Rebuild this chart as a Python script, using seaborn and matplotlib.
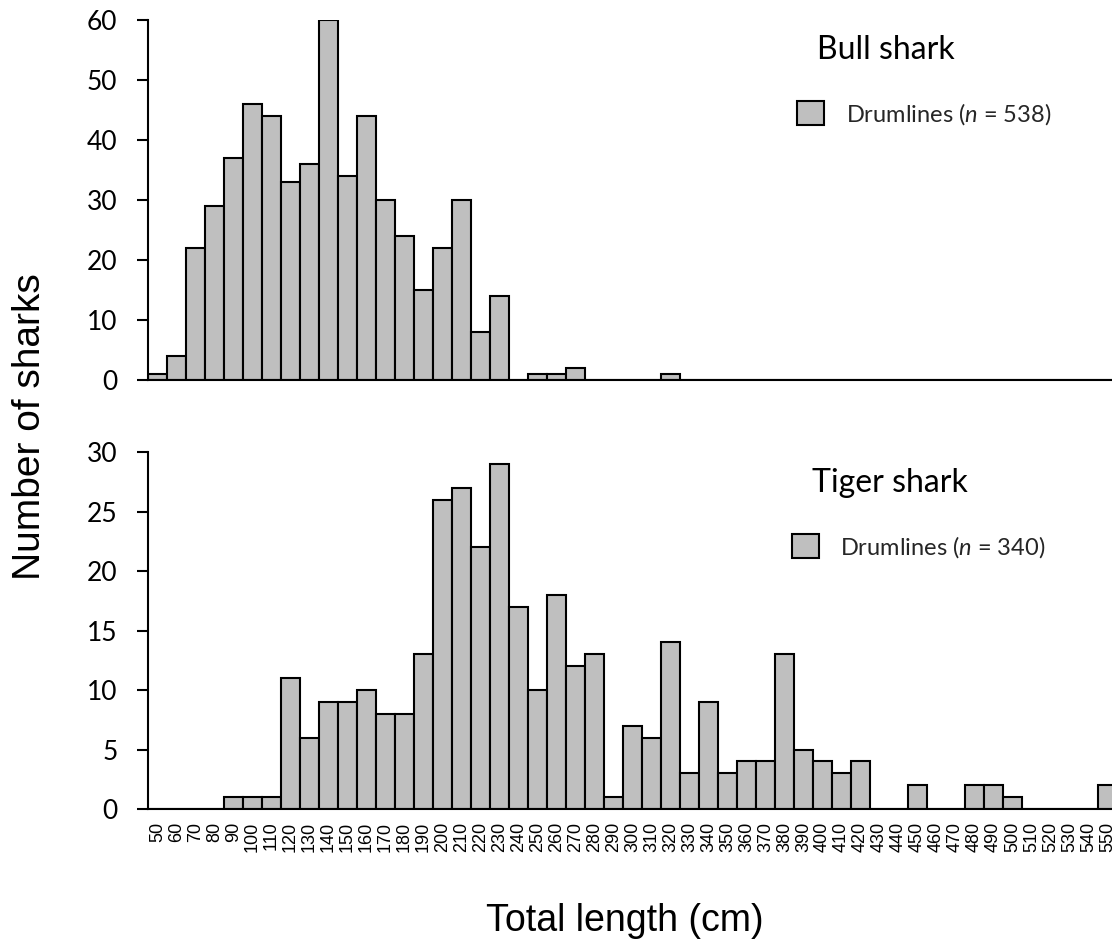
import matplotlib
matplotlib.use("Agg")
import matplotlib.pyplot as plt
import pandas as pd
import seaborn as sns
from matplotlib.patches import Patch

# Total length classes (cm)
length_classes = [50, 60, 70, 80, 90, 100, 110, 120, 130, 140, 150, 160, 170, 180,
                  190, 200, 210, 220, 230, 240, 250, 260, 270, 280, 290, 300, 310,
                  320, 330, 340, 350, 360, 370, 380, 390, 400, 410, 420, 430, 440,
                  450, 460, 470, 480, 490, 500, 510, 520, 530, 540, 550]

bull_counts = [1, 4, 22, 29, 37, 46, 44, 33, 36, 60, 34, 44, 30, 24,
               15, 22, 30, 8, 14, 0, 1, 1, 2, 0, 0, 0, 0,
               1, 0, 0, 0, 0, 0, 0, 0, 0, 0, 0, 0, 0,
               0, 0, 0, 0, 0, 0, 0, 0, 0, 0, 0]

tiger_counts = [0, 0, 0, 0, 1, 1, 1, 11, 6, 9, 9, 10, 8, 8,
                13, 26, 27, 22, 29, 17, 10, 18, 12, 13, 1, 7, 6,
                14, 3, 9, 3, 4, 4, 13, 5, 4, 3, 4, 0, 0,
                2, 0, 0, 2, 2, 1, 0, 0, 0, 0, 2]

bull_title = "Bull shark"
tiger_title = "Tiger shark"
bull_label = r"Drumlines ($n$ = 538)"
tiger_label = r"Drumlines ($n$ = 340)"

sns.set_theme(style="white")
plt.rcParams["font.family"] = ["Lato", "DejaVu Sans"]
plt.rcParams["mathtext.fontset"] = "custom"
plt.rcParams["mathtext.rm"] = "Lato"
plt.rcParams["mathtext.it"] = "Lato:italic"

BAR_FILL = "#bfbfbf"
EDGE = "black"

W, H = 1112, 939
fig = plt.figure(figsize=(W / 100, H / 100), dpi=100)

left_px, right_px = 148, 1117
ax_top = fig.add_axes([left_px / W, 1 - 380 / H, (right_px - left_px) / W, 360 / H])
ax_bot = fig.add_axes([left_px / W, 1 - 809 / H, (right_px - left_px) / W, 357 / H])

order = [str(v) for v in length_classes]
bull_df = pd.DataFrame({"length": order, "count": bull_counts})
tiger_df = pd.DataFrame({"length": order, "count": tiger_counts})


def draw_panel(ax, df, ymax, ystep, title, label, title_xy, legend_xy, show_xlabels):
    sns.barplot(data=df, x="length", y="count", order=order, ax=ax,
                color=BAR_FILL, width=1.0, edgecolor=EDGE, linewidth=1.5,
                saturation=1, errorbar=None)
    for bar in ax.patches:
        bar.set_facecolor(BAR_FILL)
    ax.set_xlim(-0.5, len(order) - 0.5)
    ax.set_ylim(0, ymax)
    ax.set_yticks(range(0, ymax + 1, ystep))
    ax.set_xlabel("")
    ax.set_ylabel("")
    for side in ("top", "right"):
        ax.spines[side].set_visible(False)
    for side in ("left", "bottom"):
        ax.spines[side].set_color("black")
        ax.spines[side].set_linewidth(1.5)
    ax.tick_params(axis="y", direction="out", length=8, width=1.5,
                   labelsize=19, left=True, pad=14, colors="black")
    if show_xlabels:
        ax.set_xticks(range(len(order)), order, rotation=90, fontsize=13,
                      family="Liberation Sans", color="black")
        ax.tick_params(axis="x", bottom=False, length=0, pad=9)
    else:
        ax.tick_params(axis="x", bottom=False, labelbottom=False)
    ax.text(title_xy[0], title_xy[1], title, transform=ax.transAxes,
            fontsize=23, va="baseline", ha="left", color="black")
    handle = Patch(facecolor=BAR_FILL, edgecolor=EDGE, linewidth=1.5)
    ax.legend([handle], [label], loc="center left", bbox_to_anchor=legend_xy,
              frameon=False, fontsize=17, handlelength=1.15, handleheight=1.15,
              handletextpad=0.9, borderpad=0, borderaxespad=0)


draw_panel(ax_top, bull_df, 60, 10, bull_title, bull_label,
           (0.690, 0.892), (0.670, 0.740), False)
draw_panel(ax_bot, tiger_df, 30, 5, tiger_title, tiger_label,
           (0.685, 0.888), (0.6646, 0.735), True)

fig.text(0.027, 1 - 426.5 / H, "Number of sharks", rotation=90, ha="center",
         va="center", fontsize=28, family="Liberation Sans", color="black")
fig.text(0.562, 1 - 931 / H, "Total length (cm)", ha="center", va="baseline",
         fontsize=27, family="Liberation Sans", color="black")

fig.savefig("out.png", dpi=100)
